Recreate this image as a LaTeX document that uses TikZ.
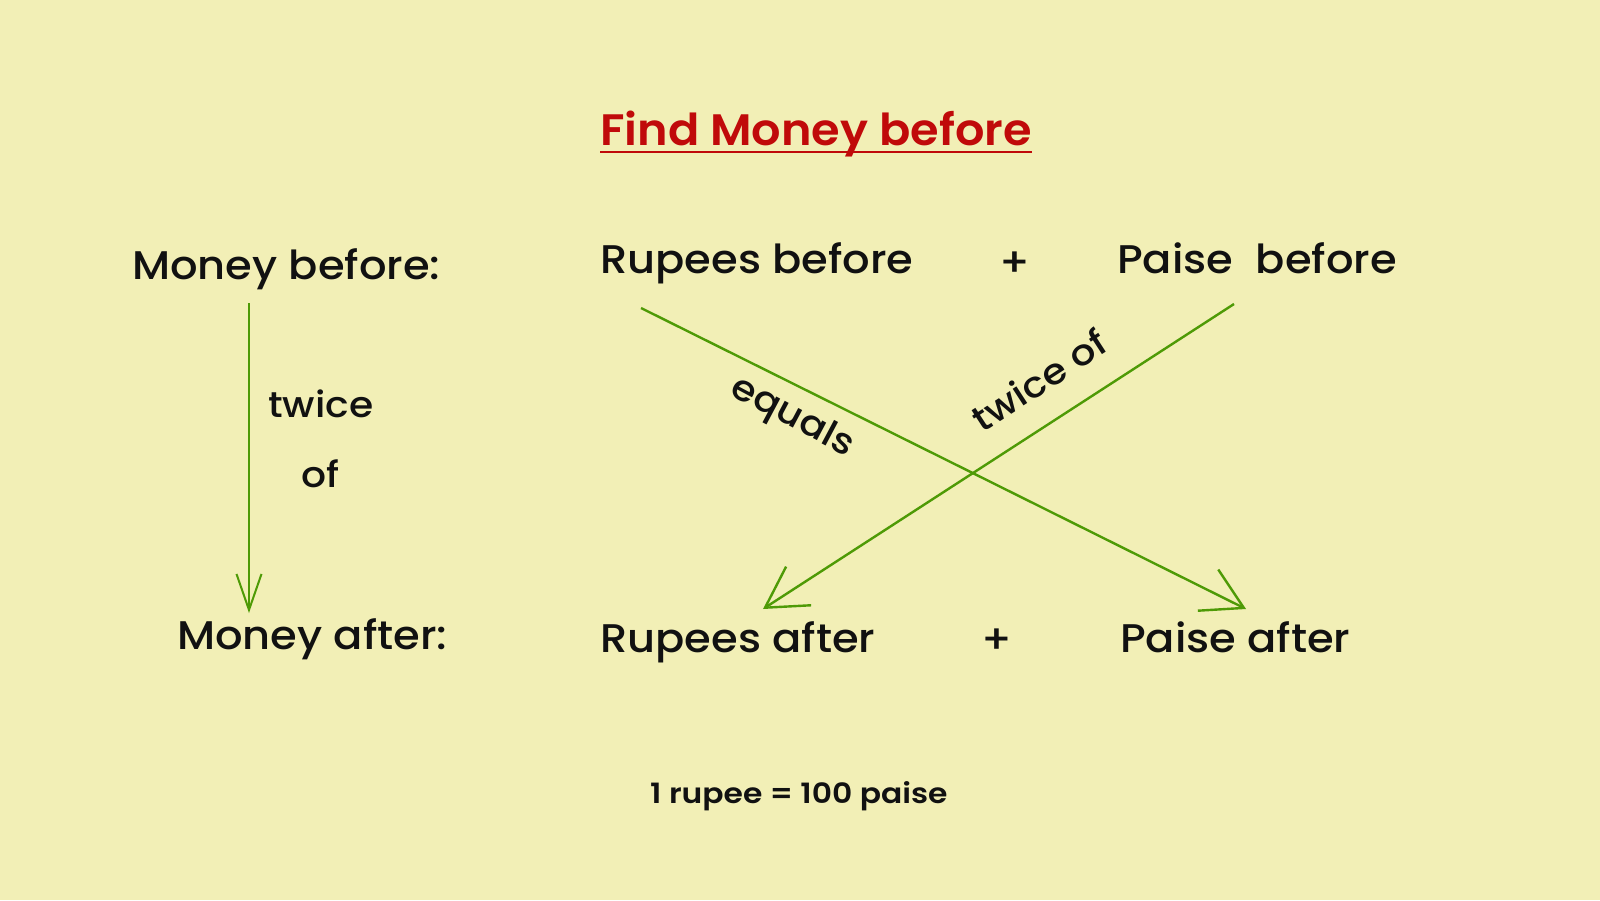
\documentclass[tikz,border=0pt]{standalone}
\usepackage{fontspec}
\setmainfont{Poppins}[UprightFont=* Medium, BoldFont=* SemiBold]
\newfontfamily\bodyfont{Poppins}[UprightFont=* Medium, FakeStretch=1.08]
\newfontfamily\lblfont{Poppins}[UprightFont=* Medium, FakeStretch=1.09]
\newfontfamily\notefont{Poppins}[UprightFont=* SemiBold, FakeStretch=1.12]
\newfontfamily\titlefont{Poppins}[UprightFont=* SemiBold, FakeStretch=1.05]
\usetikzlibrary{arrows.meta}
\definecolor{bgc}{HTML}{F2EFB6}
\definecolor{grn}{HTML}{4E9A06}
\definecolor{ttl}{HTML}{C00A0A}
\definecolor{ink}{HTML}{111111}
\begin{document}
\begin{tikzpicture}[x=1pt,y=-1pt,
  txt/.style={inner sep=0pt, text=ink, font=\bodyfont\fontsize{40}{48}\selectfont},
  lbl/.style={inner sep=0pt, text=ink, font=\lblfont\fontsize{36}{42}\selectfont},
  note/.style={inner sep=0pt, text=ink, font=\notefont\fontsize{28}{32}\selectfont},
  ttlstyle/.style={inner sep=0pt, text=ttl, font=\titlefont\fontsize{44}{52}\selectfont},
  vconn/.style={draw=grn, line width=2pt, -{Straight Barb[length=36pt,width=25pt,line width=2pt]}},
  dconn/.style={draw=grn, line width=2.4pt, -{Straight Barb[length=40pt,width=46pt,line width=2.4pt]}}]
\fill[bgc] (0,0) rectangle (1600,900);
\useasboundingbox (0,0) rectangle (1600,900);
% title
\node[ttlstyle, anchor=base] (title) at (816,145) {Find Money before};
\draw[ttl, line width=2.6pt] ([yshift=-7pt]title.base west) -- ([yshift=-7pt]title.base east);
% top row
\node[txt, anchor=base west] (mb) at (132,279) {Money before:};
\node[txt, anchor=base west] (rb) at (600,273) {Rupees before};
\node[txt] (plusb) at (1015,264) {+};
\node[txt, anchor=base west] (pb) at (1117,273) {Paise\ \ before};
% bottom row
\node[txt, anchor=base west] (ma) at (177,649) {Money after:};
\node[txt, anchor=base west] (ra) at (600,652) {Rupees after};
\node[txt] (plusa) at (997,641) {+};
\node[txt, anchor=base west] (pa) at (1120,652) {Paise after};
% note
\node[note, anchor=base west] (nt) at (650,803) {1 rupee = 100 paise};
% vertical arrow
\coordinate (v1) at (249,303);
\coordinate (v2) at (249,613);
\draw[vconn] (v1) -- (v2);
\node[lbl, anchor=base west] (tw) at (268,417) {twice};
\node[lbl, anchor=base west] (of) at (301,487) {of};
% crossing arrows
\coordinate (d1s) at (641,308);
\coordinate (d1e) at (1246,609);
\coordinate (d2s) at (1234,304);
\coordinate (d2e) at (763,609);
\draw[dconn] (d1s) -- (d1e);
\draw[dconn] (d2s) -- (d2e);
\node[lbl, rotate=-28] (eq) at (792,418) {equals};
\node[lbl, rotate=33] (two) at (1039,380) {twice of};
\end{tikzpicture}
\end{document}
